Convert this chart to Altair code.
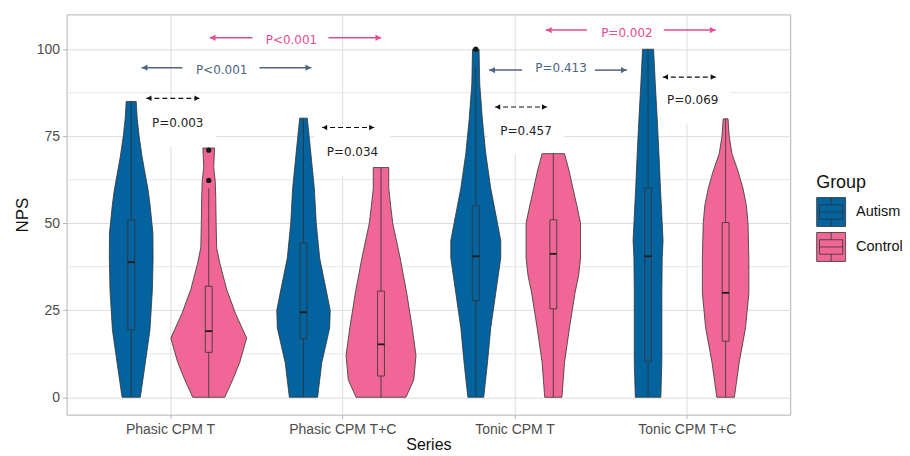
import altair as alt
import pandas as pd
import math

series = ["Phasic CPM T", "Phasic CPM T+C", "Tonic CPM T", "Tonic CPM T+C"]
groups = ["Autism", "Control"]
group_colors = ["#02639e", "#f06697"]

# violin outlines: NPS level and half-width (in category widths)
pt_aut_y = [0, 9.9, 19.4, 30.9, 40, 47.2, 55, 59.6, 65, 69.2, 75, 80, 85]
pt_aut_w = [0.053, 0.082, 0.109, 0.123, 0.127, 0.126, 0.110, 0.098, 0.078, 0.063, 0.046, 0.035, 0.029]
pt_con_y = [0, 5, 10, 17, 24, 31, 38.6, 43, 50, 57, 62, 66, 71.6]
pt_con_w = [0.093, 0.139, 0.180, 0.220, 0.156, 0.104, 0.064, 0.046, 0.043, 0.041, 0.038, 0.029, 0.034]
ptc_aut_y = [0, 9.9, 19.9, 25, 30, 40, 50, 60, 70, 80.2]
ptc_aut_w = [0.082, 0.106, 0.152, 0.155, 0.135, 0.094, 0.074, 0.063, 0.043, 0.022]
ptc_con_y = [0, 5, 12, 20, 30, 40, 50, 55, 60, 66]
ptc_con_w = [0.145, 0.190, 0.203, 0.181, 0.149, 0.111, 0.068, 0.056, 0.045, 0.045]
tt_aut_y = [0, 10, 20, 30, 40, 45, 50, 60, 70, 80, 90, 100]
tt_aut_w = [0.046, 0.068, 0.087, 0.116, 0.145, 0.145, 0.126, 0.087, 0.058, 0.038, 0.023, 0.019]
tt_con_y = [0, 10, 20, 30, 35, 40, 50, 55, 60, 65, 70]
tt_con_w = [0.050, 0.065, 0.094, 0.126, 0.147, 0.158, 0.158, 0.137, 0.114, 0.092, 0.065]
ttc_aut_y = [0, 10, 20, 30, 40, 45, 50, 60, 70, 80, 90, 100]
ttc_aut_w = [0.074, 0.080, 0.080, 0.080, 0.082, 0.087, 0.082, 0.072, 0.063, 0.053, 0.042, 0.032]
ttc_con_y = [0, 10, 20, 30, 40, 50, 55, 60, 65, 70, 75, 80]
ttc_con_w = [0.051, 0.079, 0.116, 0.135, 0.135, 0.130, 0.121, 0.101, 0.072, 0.037, 0.021, 0.014]

violin_series = [0, 0, 1, 1, 2, 2, 3, 3]
violin_group = [0, 1, 0, 1, 0, 1, 0, 1]
violin_levels = [pt_aut_y, pt_con_y, ptc_aut_y, ptc_con_y, tt_aut_y, tt_con_y, ttc_aut_y, ttc_con_y]
violin_widths = [pt_aut_w, pt_con_w, ptc_aut_w, ptc_con_w, tt_aut_w, tt_con_w, ttc_aut_w, ttc_con_w]

# box plot statistics
box_lo = [0, 0, 0, 0, 0, 0, 0, 0]
box_q1 = [19.4, 12.9, 16.8, 6.1, 27.8, 25.4, 10.3, 16.1]
box_med = [38.8, 19.0, 24.4, 15.2, 40.5, 41.2, 40.5, 30.0]
box_q3 = [51.0, 31.9, 44.3, 30.5, 55.0, 51.0, 60.1, 50.2]
box_hi = [85, 60, 80, 66, 95, 70, 100, 80]
outlier_series = [0, 0, 2]
outlier_group = [1, 1, 0]
outlier_value = [62.3, 71.0, 100.0]

# comparisons
cmp_text = ["P<0.001", "P<0.001", "P=0.003", "P=0.034", "P=0.413", "P=0.457", "P=0.002", "P=0.069"]
cmp_kind = ["Control", "Autism", "Between", "Between", "Autism", "Between", "Control", "Between"]
cmp_y = [103.3, 94.7, 85.9, 77.5, 94.0, 83.4, 105.5, 92.0]
cmp_from = [1.230, 0.835, 0.863, 1.883, 2.852, 2.887, 3.181, 3.861]
cmp_to = [2.227, 1.821, 1.172, 2.186, 3.652, 3.189, 4.168, 4.168]
cmp_gap_lo = [1.479, 1.072, None, None, 3.044, None, 3.420, None]
cmp_gap_hi = [1.920, 1.520, None, None, 3.467, None, 3.866, None]
cmp_text_x = [1.705, 1.300, 1.045, 2.059, 3.270, 3.067, 3.652, 4.034]
cmp_text_y = [102.7, 94.0, 78.9, 70.6, 94.7, 76.6, 104.6, 85.4]

y_major = [0, 25, 50, 75, 100]
y_minor = [12.5, 37.5, 62.5, 87.5]

# ---------------------------------------------------------------------------
dodge = {0: -0.225, 1: 0.225}
box_half = 0.02
kind_color = {"Control": "#ea4a8f", "Autism": "#4c6580", "Between": "#111111"}

vrows = []
for i in range(8):
    c = violin_series[i] + 1 + dodge[violin_group[i]]
    for yv, w in zip(violin_levels[i], violin_widths[i]):
        vrows.append({"vid": i, "group": groups[violin_group[i]], "y": yv, "xl": c - w, "xr": c + w})
violin_df = pd.DataFrame(vrows)

brows = []
for i in range(8):
    c = violin_series[i] + 1 + dodge[violin_group[i]]
    brows.append({"group": groups[violin_group[i]], "c": c, "bl": c - box_half, "br": c + box_half,
                  "lo": box_lo[i], "q1": box_q1[i], "med": box_med[i], "q3": box_q3[i], "hi": box_hi[i]})
box_df = pd.DataFrame(brows)

out_df = pd.DataFrame({
    "x": [outlier_series[k] + 1 + dodge[outlier_group[k]] for k in range(len(outlier_value))],
    "y": outlier_value,
})

seg_rows, head_rows, text_rows = [], [], []
for k in range(len(cmp_text)):
    kind = cmp_kind[k]
    if cmp_gap_lo[k] is not None:
        seg_rows.append({"kind": kind, "x": cmp_from[k], "x2": cmp_gap_lo[k], "y": cmp_y[k]})
        seg_rows.append({"kind": kind, "x": cmp_gap_hi[k], "x2": cmp_to[k], "y": cmp_y[k]})
    else:
        seg_rows.append({"kind": kind, "x": cmp_from[k], "x2": cmp_to[k], "y": cmp_y[k]})
    head_rows.append({"kind": kind, "side": "L", "x": cmp_from[k], "y": cmp_y[k]})
    head_rows.append({"kind": kind, "side": "R", "x": cmp_to[k], "y": cmp_y[k]})
    text_rows.append({"kind": kind, "label": cmp_text[k], "x": cmp_text_x[k], "y": cmp_text_y[k]})
seg_df = pd.DataFrame(seg_rows)
head_df = pd.DataFrame(head_rows)
text_df = pd.DataFrame(text_rows)

FONT = "Liberation Sans, Arial, sans-serif"
label_expr = "[" + ",".join(["''"] + ["'%s'" % s for s in series]) + "][datum.value]"

x_scale = alt.Scale(domain=[0.4, 4.6], nice=False, zero=False)
y_scale = alt.Scale(domain=[-5, 110], nice=False, zero=False)
GRID = "#dcdcdc"
x_axis = alt.Axis(values=[1, 2, 3, 4], labelExpr=label_expr, grid=True, gridColor=GRID,
                  tickColor="#b3b3b3", tickSize=4, domain=False, labelColor="#4d4d4d",
                  labelFontSize=14, labelFont=FONT, labelPadding=4, titleFont=FONT,
                  titleFontSize=16, titleFontWeight="normal", titleColor="#111111", titlePadding=0)
y_axis = alt.Axis(values=y_major, grid=True, gridColor=GRID, tickColor="#b3b3b3", tickSize=4,
                  domain=False, labelColor="#4d4d4d", labelFontSize=14, labelFont=FONT, labelPadding=3,
                  titleFont=FONT, titleFontSize=17, titleFontWeight="normal", titleColor="#111111",
                  titlePadding=5)

legend_path = ("M-1,-1L1,-1L1,1L-1,1Z M-0.8,-0.5L0.8,-0.5L0.8,0.5L-0.8,0.5Z "
               "M-0.8,0L0.8,0 M0,-1L0,-0.5 M0,0.5L0,1")
color = alt.Color("group:N", scale=alt.Scale(domain=groups, range=group_colors),
                  legend=alt.Legend(title="Group", orient="none", legendX=751, legendY=160,
                                    symbolType=legend_path, symbolSize=841, symbolStrokeColor="#333333",
                                    symbolStrokeWidth=0.8, rowPadding=1, labelOffset=10,
                                    labelFontSize=14.5, labelFont=FONT, labelColor="#111111",
                                    titleFontSize=18, titleFont=FONT, titleFontWeight="normal",
                                    titleColor="#111111", titlePadding=5, padding=0))

def X(field):
    return alt.X(field, type="quantitative", scale=x_scale, axis=x_axis, title="Series")

def Y(field):
    return alt.Y(field, type="quantitative", scale=y_scale, axis=y_axis, title="NPS")

minor = alt.Chart(pd.DataFrame({"y": y_minor})).mark_rule(color="#e3e3e3", strokeWidth=0.9).encode(y=Y("y"))

label_boxes = alt.Chart(text_df).transform_filter("datum.kind == 'Between'").transform_calculate(
    bx1="datum.x - 0.22", bx2="datum.x + 0.22", by1="datum.y - 6.9", by2="datum.y + 6.9"
).mark_rect(color="white").encode(x=X("bx1:Q"), x2="bx2:Q", y=Y("by1:Q"), y2="by2:Q")

violins = alt.Chart(violin_df).mark_area(orient="horizontal", stroke="#333333", strokeWidth=0.8,
                                         fillOpacity=1).encode(
    y=Y("y"), x=X("xl"), x2="xr:Q", color=color, detail="vid:N")

whiskers = alt.Chart(box_df).mark_rule(color="#333333", strokeWidth=0.8).encode(
    x=X("c"), y=Y("lo"), y2="hi:Q")
boxes = alt.Chart(box_df).mark_rect(stroke="#333333", strokeWidth=0.8).encode(
    x=X("bl"), x2="br:Q", y=Y("q1"), y2="q3:Q", color=color)
medians = alt.Chart(box_df).mark_rule(color="#1a1a1a", strokeWidth=1.8).encode(
    x=X("bl"), x2="br:Q", y=Y("med"))
outliers = alt.Chart(out_df).mark_point(filled=True, color="#1a1a1a", size=28, opacity=1).encode(
    x=X("x"), y=Y("y"))

layers = [minor, label_boxes, violins, whiskers, boxes, medians, outliers]

for kind in ["Control", "Autism", "Between"]:
    col = kind_color[kind]
    dashed = kind == "Between"
    seg = alt.Chart(seg_df).transform_filter("datum.kind == '%s'" % kind).mark_rule(
        color=col, strokeWidth=1.2 if dashed else 1.5, **({"strokeDash": [5, 3]} if dashed else {})
    ).encode(x=X("x"), x2="x2:Q", y=Y("y"))
    hs = 30 if dashed else 40
    off = math.sqrt(hs) / 2
    hl = alt.Chart(head_df).transform_filter("datum.kind == '%s' && datum.side == 'L'" % kind).mark_point(
        shape="triangle-left", filled=True, color=col, size=hs, opacity=1, xOffset=off
    ).encode(x=X("x"), y=Y("y"))
    hr = alt.Chart(head_df).transform_filter("datum.kind == '%s' && datum.side == 'R'" % kind).mark_point(
        shape="triangle-right", filled=True, color=col, size=hs, opacity=1, xOffset=-off
    ).encode(x=X("x"), y=Y("y"))
    tx = alt.Chart(text_df).transform_filter("datum.kind == '%s'" % kind).mark_text(
        font="DejaVu Sans", fontSize=12, color="#222222" if dashed else col, align="center",
        baseline="middle"
    ).encode(x=X("x"), y=Y("y"), text="label:N")
    layers += [seg, hl, hr, tx]

chart = alt.layer(*layers).properties(
    width=725, height=401,
    autosize=alt.AutoSizeParams(type="none"),
    padding={"left": 58.7, "top": 6, "right": 112, "bottom": 41},
    background="white"
).configure_view(stroke="#b3b3b3", strokeWidth=1)

chart.save("out.html", embed_options={"renderer": "svg", "actions": False})
